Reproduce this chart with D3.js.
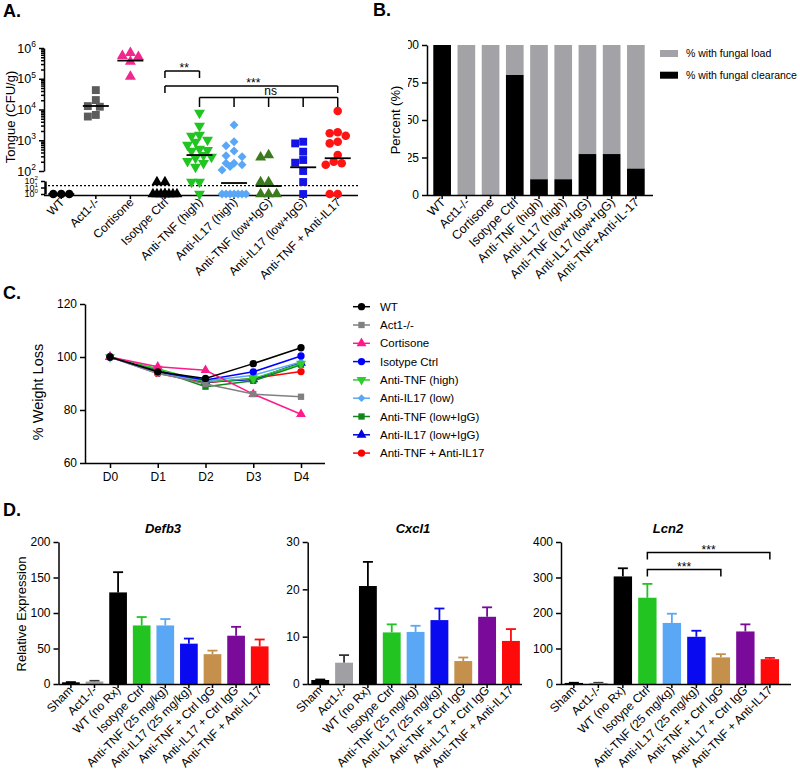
<!DOCTYPE html>
<html><head><meta charset="utf-8">
<script src="https://cdn.jsdelivr.net/npm/d3@7"></script>
<style>body{margin:0;background:#fff}</style>
</head><body><svg id="c" width="800" height="770"></svg>
<script>
// ================= DATA =================
// Panel A: tongue fungal burden (CFU/g), one array per group
const groupsA = ["WT","Act1-/-","Cortisone","Isotype Ctrl","Anti-TNF (high)","Anti-IL17 (high)","Anti-TNF (low+IgG)","Anti-IL17 (low+IgG)","Anti-TNF + Anti-IL17"];
const cfuWT = [1,1,1];
const cfuAct1 = [42700,20300,12300,12900,5900,6650];
const cfuCortisone = [560000,520000,700000,360000,117000];
const cfuIsotype = [70,70,1,1,1,1,1,1,1,1];
const cfuTNFhigh = [7700,2900,1480,1380,1020,880,700,520,480,450,330,285,265,210,180,135,70,70,1];
const cfuIL17high = [3150,900,665,445,315,290,178,160,140,178,108,1,1,1,1,1,1,1];
const cfuTNFlow = [280,330,70,70,1,1,1];
const cfuIL17low = [790,895,425,228,186,100,70,1];
const cfuCombo = [8900,1810,1400,1690,895,790,330,200,178,160,1,1];
const mediansA = [1,13000,390000,1,330,49,17,132,260];
const detectionLimit = 19;
const yTicksA = [1e2,1e3,1e4,1e5,1e6];
const yTicksALow = [1,10,100];
const sigA = [
  {from:"Isotype Ctrl", to:["Anti-TNF (high)"], label:"**"},
  {from:"Isotype Ctrl", to:["Anti-TNF + Anti-IL17"], label:"***"},
  {from:"Anti-TNF (high)", to:["Anti-IL17 (high)","Anti-TNF (low+IgG)","Anti-IL17 (low+IgG)","Anti-TNF + Anti-IL17"], label:"ns"}
];

// Panel B: % of mice
const groupsB = ["WT","Act1-/-","Cortisone","Isotype Ctrl","Anti-TNF (high)","Anti-IL17 (high)","Anti-TNF (low+IgG)","Anti-IL17 (low+IgG)","Anti-TNF+Anti-IL-17"];
const clearancePct = [100,0,0,80,10.5,10.5,27.3,27.3,17.6];
const loadPct = [0,100,100,20,89.5,89.5,72.7,72.7,82.4];
const yTicksB = [0,25,50,75,100];
const legendB = ["% with fungal load","% with fungal clearance"];

// Panel C: % weight over days
const days = ["D0","D1","D2","D3","D4"];
const seriesNamesC = ["WT","Act1-/-","Cortisone","Isotype Ctrl","Anti-TNF (high)","Anti-IL17 (low)","Anti-TNF (low+IgG)","Anti-IL17 (low+IgG)","Anti-TNF + Anti-IL17"];
const wtWeight        = [100, 94.4, 91.9, 97.5, 103.5];
const act1Weight      = [100, 94.0, 89.8, 86.0, 85.0];
const cortisoneWeight = [100, 96.3, 95.0, 86.0, 78.4];
const isotypeWeight   = [100, 94.4, 91.3, 94.4, 100.4];
const tnfHighWeight   = [100, 95.6, 90.6, 91.9, 97.5];
const il17LowWeight   = [100, 93.8, 90.9, 93.1, 98.1];
const tnfLowWeight    = [100, 95.0, 88.8, 91.0, 97.1];
const il17LowIgGWeight= [100, 95.0, 90.6, 91.5, 97.8];
const comboWeight     = [100, 93.8, 90.3, 91.9, 94.5];
const yTicksC = [60,80,100,120];

// Panel D: relative expression (mean, SEM)
const categoriesD = ["Sham","Act1-/-","WT (no Rx)","Isotype Ctrl","Anti-TNF (25 mg/kg)","Anti-IL17 (25 mg/kg)","Anti-TNF + Ctrl IgG","Anti-IL17 + Ctrl IgG","Anti-TNF + Anti-IL17"];
const defb3Mean = [2.4, 3.5, 129, 82.5, 82.5, 56.8, 42, 68, 53];
const defb3Sem  = [0.3, 1.0, 28.5, 11.8, 9.0, 7.2, 5.0, 12.5, 9.7];
const cxcl1Mean = [0.85, 4.5, 20.7, 10.9, 11.0, 13.5, 4.85, 14.2, 9.1];
const cxcl1Sem  = [0.1, 1.6, 5.1, 1.7, 1.3, 2.45, 0.75, 2.0, 2.5];
const lcn2Mean  = [3, 3, 303, 243, 172, 133, 75, 148, 70];
const lcn2Sem   = [0.5, 0.5, 23, 39, 26, 17, 9, 20, 3.5];
const yTicksDefb3 = [0,50,100,150,200];
const yTicksCxcl1 = [0,10,20,30];
const yTicksLcn2 = [0,100,200,300,400];
const sigLcn2 = [
  {from:"Isotype Ctrl", to:"Anti-TNF + Ctrl IgG", label:"***"},
  {from:"Isotype Ctrl", to:"Anti-TNF + Anti-IL17", label:"***"}
];

// ================= DRAWING =================
const FONT = '"Liberation Sans", Arial, Helvetica, sans-serif';
const svg = d3.select("#c").attr("font-family", FONT);
svg.append("rect").attr("width",800).attr("height",770).attr("fill","#fff");

function styleAxis(g, fs){
  g.attr("font-family", FONT).attr("font-size", fs);
  g.selectAll("path,line").attr("stroke","#000").attr("stroke-width",1.5);
  g.selectAll("text").attr("fill","#000");
}
function symPath(shape, size){
  const map = {circle:d3.symbolCircle, square:d3.symbolSquare, triangle:d3.symbolTriangle,
               triangleDown:d3.symbolTriangle, diamond:d3.symbolSquare};
  return d3.symbol().type(map[shape]).size(size)();
}
function symRot(shape){ return shape==="triangleDown" ? 180 : shape==="diamond" ? 45 : 0; }
function letter(t,x,y){ svg.append("text").attr("x",x).attr("y",y).attr("font-size",18).attr("font-weight","bold").text(t); }

// ---------- Panel A ----------
letter("A.",3,17);
const gA = svg.append("g");
const xA = d3.scaleBand().domain(groupsA).range([44,355]);
const yUp = d3.scaleLog().domain([100,1e6]).range([171,48]);
const yLow = d3.scaleLog().domain([1,100]).range([194,181]);
const yA = v => v>=100 ? yUp(v) : yLow(v);
const cxA = g => xA(g)+xA.bandwidth()/2;

const minorA = [];
for (let k=2;k<6;k++) for (let m=2;m<10;m++) minorA.push(m*Math.pow(10,k));
const axUpMinor = gA.append("g").attr("transform","translate(44,0)")
  .call(d3.axisLeft(yUp).tickValues(minorA).tickSize(3).tickSizeOuter(0).tickFormat(""));
axUpMinor.select(".domain").remove();
styleAxis(axUpMinor, 12);
const axUp = gA.append("g").attr("transform","translate(44,0)")
  .call(d3.axisLeft(yUp).tickValues(yTicksA).tickSize(5).tickSizeOuter(0));
styleAxis(axUp, 12.5);
function supLabels(axis, fs){
  axis.selectAll(".tick text").each(function(d){
    const t = d3.select(this); const e = Math.round(Math.log10(d));
    t.text(null).attr("font-size",fs);
    t.append("tspan").text("10");
    t.append("tspan").attr("dy",-fs*0.45).attr("font-size",fs*0.68).text(e);
  });
}
supLabels(axUp, 12.5);
const axLow = gA.append("g").attr("transform","translate(45,0)")
  .call(d3.axisLeft(yLow).tickValues(yTicksALow).tickSize(4).tickSizeOuter(0));
styleAxis(axLow, 9);
axLow.select(".domain").attr("stroke-width",2.5);
supLabels(axLow, 9);
axLow.selectAll(".tick text").attr("x",-7);

const axXA = gA.append("g").attr("transform","translate(0,195)")
  .call(d3.axisBottom(xA).tickSize(4).tickSizeOuter(0).tickFormat(""));
axXA.select(".domain").attr("d","M44,0.5H358");
styleAxis(axXA, 12);
gA.selectAll(".xlabA").data(groupsA).join("text")
  .attr("transform", d=>`translate(${cxA(d)+4},${203}) rotate(-45)`)
  .attr("text-anchor","end").attr("font-size",12).text(d=>d);
gA.append("text").attr("transform","translate(15,117) rotate(-90)").attr("text-anchor","middle")
  .attr("font-size",13).text("Tongue (CFU/g)");

gA.append("line").attr("x1",48).attr("x2",358).attr("y1",yLow(detectionLimit)).attr("y2",yLow(detectionLimit))
  .attr("stroke","#000").attr("stroke-width",1.3).attr("stroke-dasharray","2,2");

function swarm(values, yf, maxOff=12, step=4, minD=7.5){
  const idx = values.map((v,i)=>i).sort((a,b)=>values[b]-values[a]);
  const placed=[], offs=new Array(values.length);
  const cands=[0]; for(let k=step;k<=maxOff;k+=step) cands.push(-k,k);
  for(const i of idx){
    const y=yf(values[i]); let best=0,bestD=-1;
    for(const c of cands){
      let md=Infinity; for(const p of placed){const d=Math.hypot(p.x-c,p.y-y); if(d<md) md=d;}
      if(md>=minD){best=c;break;}
      if(md>bestD){bestD=md;best=c;}
    }
    offs[i]=best; placed.push({x:best,y});
  }
  return offs;
}
const dataA = [cfuWT,cfuAct1,cfuCortisone,cfuIsotype,cfuTNFhigh,cfuIL17high,cfuTNFlow,cfuIL17low,cfuCombo];
const shapesA = ["circle","square","triangle","triangle","triangleDown","diamond","triangle","square","circle"];
const colorsA = ["#000000","#5c5c5c","#f0288c","#000000","#22c422","#5aa8f5","#3b7a1e","#1414e6","#ff1414"];
const sizesA = {circle:58, square:62, triangle:52, triangleDown:52, diamond:40};
groupsA.forEach((g,gi)=>{
  const vals = dataA[gi]; const offs = swarm(vals, yA);
  gA.append("g").selectAll("path").data(vals).join("path")
    .attr("d", symPath(shapesA[gi], sizesA[shapesA[gi]]))
    .attr("transform",(v,i)=>`translate(${cxA(g)+offs[i]},${yA(v)}) rotate(${symRot(shapesA[gi])})`)
    .attr("fill", colorsA[gi]);
});
gA.append("g").selectAll("line").data(groupsA).join("line")
  .attr("x1",g=>cxA(g)-13).attr("x2",g=>cxA(g)+13)
  .attr("y1",(g,i)=>yA(mediansA[i])).attr("y2",(g,i)=>yA(mediansA[i]))
  .attr("stroke","#000").attr("stroke-width",1.8);

const sigYA = [[71,78],[86,93],[97.5,107]];
sigA.forEach((s,i)=>{
  const [yt,yb] = sigYA[i];
  const xs = [s.from, ...s.to].map(cxA);
  const x1 = d3.min(xs), x2 = d3.max(xs);
  const gs = gA.append("g").attr("stroke","#000").attr("stroke-width",1.5).attr("fill","none");
  gs.append("line").attr("x1",x1).attr("x2",x2).attr("y1",yt).attr("y2",yt);
  xs.forEach(x=>gs.append("line").attr("x1",x).attr("x2",x).attr("y1",yt).attr("y2",yb));
  gA.append("text").attr("x",(x1+x2)/2+2).attr("y", s.label==="ns"? yt-3 : yt+1)
    .attr("text-anchor","middle").attr("font-size",12).text(s.label);
});

// ---------- Panel B ----------
letter("B.",373,16);
const gB = svg.append("g");
const xB = d3.scaleBand().domain(groupsB).range([427,651]).paddingInner(0.27).paddingOuter(0.26);
const yB = d3.scaleLinear().domain([0,100]).range([195,45]);
gB.append("g").selectAll("rect").data(groupsB).join("rect")
  .attr("x",d=>xB(d)).attr("width",xB.bandwidth())
  .attr("y",(d,i)=>yB(clearancePct[i]+loadPct[i])).attr("height",(d,i)=>yB(0)-yB(loadPct[i]))
  .attr("fill","#a3a3a7");
gB.append("g").selectAll("rect").data(groupsB).join("rect")
  .attr("x",d=>xB(d)).attr("width",xB.bandwidth())
  .attr("y",(d,i)=>yB(clearancePct[i])).attr("height",(d,i)=>yB(0)-yB(clearancePct[i]))
  .attr("fill","#000");
svg.append("clipPath").attr("id","clipB").attr("clipPathUnits","userSpaceOnUse")
  .append("rect").attr("x",408).attr("y",0).attr("width",400).attr("height",300);
const axYB = gB.append("g").attr("clip-path","url(#clipB)")
  .append("g").attr("transform","translate(427,0)")
  .call(d3.axisLeft(yB).tickValues(yTicksB).tickSize(5).tickSizeOuter(0));
styleAxis(axYB, 12);
const axXB = gB.append("g").attr("transform","translate(0,195)")
  .call(d3.axisBottom(xB).tickSize(4).tickSizeOuter(0).tickFormat(""));
axXB.select(".domain").attr("d","M427,0.5H653");
styleAxis(axXB, 12);
gB.selectAll(".xlabB").data(groupsB).join("text")
  .attr("transform", d=>`translate(${xB(d)+xB.bandwidth()/2+4},${203}) rotate(-45)`)
  .attr("text-anchor","end").attr("font-size",12.5).text(d=>d);
gB.append("text").attr("transform","translate(400,120) rotate(-90)").attr("text-anchor","middle")
  .attr("font-size",13).text("Percent (%)");
const legColB = ["#a3a3a7","#000"];
legendB.forEach((t,i)=>{
  gB.append("rect").attr("x",660).attr("y",50+i*21.7).attr("width",18).attr("height",7).attr("fill",legColB[i]);
  gB.append("text").attr("x",686).attr("y",53.5+i*21.7).attr("dy","0.35em").attr("font-size",10.5).text(t);
});

// ---------- Panel C ----------
letter("C.",3,299);
const gC = svg.append("g");
const xC = d3.scalePoint().domain(days).range([110,301]);
const yC = d3.scaleLinear().domain([60,120]).range([463,304]);
const seriesC = [wtWeight,act1Weight,cortisoneWeight,isotypeWeight,tnfHighWeight,il17LowWeight,tnfLowWeight,il17LowIgGWeight,comboWeight];
const colorsC = ["#000000","#808080","#ff1a8c","#0000ff","#2ecc2e","#5aa8f5","#12861a","#0000e0","#ff0000"];
const shapesC = ["circle","square","triangle","circle","triangleDown","diamond","square","triangle","circle"];
const sizesC = {circle:42, square:40, triangle:42, triangleDown:42, diamond:30};
const axYC = gC.append("g").attr("transform","translate(85,0)")
  .call(d3.axisLeft(yC).tickValues(yTicksC).tickSize(5).tickSizeOuter(0));
styleAxis(axYC, 12);
const axXC = gC.append("g").attr("transform","translate(0,463)")
  .call(d3.axisBottom(xC).tickSize(5).tickSizeOuter(0));
axXC.select(".domain").attr("d","M85,0.5H325");
styleAxis(axXC, 12);
axXC.selectAll(".tick text").attr("y",9);
gC.append("text").attr("transform","translate(43,392) rotate(-90)").attr("text-anchor","middle")
  .attr("font-size",14.5).text("% Weight Loss");
const line = d3.line().x((v,i)=>xC(days[i])).y(v=>yC(v));
for (let si=seriesC.length-1; si>=0; si--){
  gC.append("path").attr("d",line(seriesC[si])).attr("fill","none").attr("stroke",colorsC[si]).attr("stroke-width",1.5);
  gC.append("g").selectAll("path").data(seriesC[si]).join("path")
    .attr("d",symPath(shapesC[si],sizesC[shapesC[si]]))
    .attr("transform",(v,i)=>`translate(${xC(days[i])},${yC(v)}) rotate(${symRot(shapesC[si])})`)
    .attr("fill",colorsC[si]);
}
seriesNamesC.forEach((n,i)=>{
  const y = 306.7 + i*18.3;
  gC.append("line").attr("x1",353).attr("x2",370).attr("y1",y).attr("y2",y).attr("stroke",colorsC[i]).attr("stroke-width",1.5);
  gC.append("path").attr("d",symPath(shapesC[i],sizesC[shapesC[i]]))
    .attr("transform",`translate(361.5,${y}) rotate(${symRot(shapesC[i])})`).attr("fill",colorsC[i]);
  gC.append("text").attr("x",380).attr("y",y).attr("dy","0.35em").attr("font-size",11.5).text(n);
});

// ---------- Panel D ----------
letter("D.",3,516);
const colorsD = ["#000000","#a0a0a4","#000000","#22c422","#5aa8f5","#0a0af0","#c4904c","#7a0a9a","#ff0a0a"];
const errColorsD = ["#000000","#333333","#000000","#22c422","#5aa8f5","#0a0af0","#c4904c","#7a0a9a","#ff0a0a"];
const panelsD = [
  {title:"Defb3", mean:defb3Mean, sem:defb3Sem, ticks:yTicksDefb3, max:200, x0:58.5, step:23.6, axisEnd:270, tx:163, ylab:true},
  {title:"Cxcl1", mean:cxcl1Mean, sem:cxcl1Sem, ticks:yTicksCxcl1, max:30, x0:307.7, step:23.84, axisEnd:522, tx:413},
  {title:"Lcn2", mean:lcn2Mean, sem:lcn2Sem, ticks:yTicksLcn2, max:400, x0:561, step:24.5, axisEnd:791, tx:668, sig:sigLcn2}
];
panelsD.forEach(p=>{
  const g = svg.append("g");
  const x = d3.scaleBand().domain(categoriesD).range([p.x0, p.x0+p.step*9.05]).paddingInner(0.25).paddingOuter(0.15);
  const y = d3.scaleLinear().domain([0,p.max]).range([684,542]);
  const cx = d => x(d)+x.bandwidth()/2;
  const ge = g.append("g");
  categoriesD.forEach((c,i)=>{
    const top = y(p.mean[i]+p.sem[i]);
    ge.append("line").attr("x1",cx(c)).attr("x2",cx(c)).attr("y1",y(p.mean[i])).attr("y2",top).attr("stroke",errColorsD[i]).attr("stroke-width",1.8);
    ge.append("line").attr("x1",cx(c)-5).attr("x2",cx(c)+5).attr("y1",top).attr("y2",top).attr("stroke",errColorsD[i]).attr("stroke-width",1.8);
  });
  g.append("g").selectAll("rect").data(categoriesD).join("rect")
    .attr("x",d=>x(d)).attr("width",x.bandwidth())
    .attr("y",(d,i)=>y(p.mean[i])).attr("height",(d,i)=>y(0)-y(p.mean[i]))
    .attr("fill",(d,i)=>colorsD[i]);
  const ay = g.append("g").attr("transform",`translate(${p.x0},0)`)
    .call(d3.axisLeft(y).tickValues(p.ticks).tickSize(5).tickSizeOuter(0));
  styleAxis(ay, 12);
  const ax = g.append("g").attr("transform","translate(0,684)")
    .call(d3.axisBottom(x).tickSize(4).tickSizeOuter(0).tickFormat(""));
  ax.select(".domain").attr("d",`M${p.x0},0.5H${p.axisEnd}`);
  styleAxis(ax, 11);
  g.selectAll(".xl").data(categoriesD).join("text")
    .attr("transform", d=>`translate(${cx(d)+3},${691}) rotate(-45)`)
    .attr("text-anchor","end").attr("font-size",12).text(d=>d);
  g.append("text").attr("x",p.tx).attr("y",533).attr("text-anchor","middle").attr("font-size",13)
    .attr("font-weight","bold").attr("font-style","italic").text(p.title);
  if (p.ylab) g.append("text").attr("transform","translate(26,614) rotate(-90)").attr("text-anchor","middle")
    .attr("font-size",13).text("Relative Expression");
  if (p.sig){
    const ys = [[569.5,576.5],[552.5,559.5]];
    p.sig.forEach((s,i)=>{
      const x1=cx(s.from), x2=cx(s.to), [yt,yb]=ys[i];
      g.append("path").attr("d",`M${x1},${yb}V${yt}H${x2}V${yb}`).attr("fill","none").attr("stroke","#000").attr("stroke-width",1.5);
      g.append("text").attr("x",(x1+x2)/2).attr("y",yt+1).attr("text-anchor","middle").attr("font-size",12).text(s.label);
    });
  }
});
</script>
</body></html>
